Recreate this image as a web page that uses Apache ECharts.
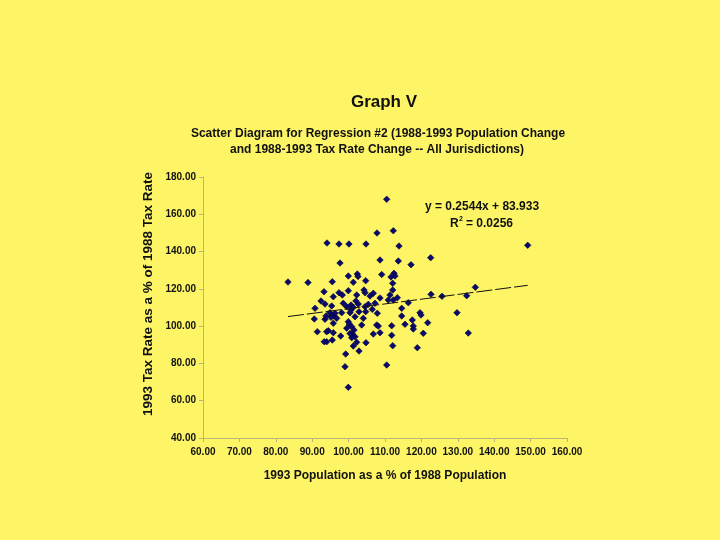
<!DOCTYPE html>
<html><head><meta charset="utf-8">
<script src="https://cdn.jsdelivr.net/npm/echarts@6/dist/echarts.min.js"></script>
<style>html,body{margin:0;padding:0;background:#FDF566;}#c{width:720px;height:540px;}</style>
</head><body><div id="c"></div>
<script>
const popPct = [83.35,88.85,94.07,97.36,100.1,104.78,110.47,107.8,112.28,113.85,97.64,108.63,113.65,117.14,122.55,149.2,134.81,132.45,125.66,122.64,129.78,132.88,121.73,119.62,119.89,117.5,117.77,117.77,120.52,118.87,110.47,99.01,99.92,102.86,99.2,116.4,114.59,114.59,112.12,111.84,111.84,112.28,111.37,112.12,112.12,112.47,112.75,111.65,109.09,108.63,113.38,110.91,95.52,99.92,102.39,102.58,101.29,104.7,93.24,95.8,97.36,98.27,99.92,102.23,104.23,104.51,106.79,105.88,92.42,93.52,90.77,95.36,98.54,99.48,100.66,101.29,102.66,104.51,105.41,107.25,94.89,95.8,96.26,98.1,100.38,100.66,102.86,101.76,104.7,107.88,90.58,93.52,95.16,95.8,99.92,100.19,100.85,101.48,101.02,101.76,100.85,103.6,104.04,107.72,108.16,91.4,93.98,95.8,97.83,106.79,108.63,93.98,95.52,101.29,102.23,104.78,94.42,93.3,99.48,100.38,93.79,96.73,106.5,102.0,115.5];
const taxPct = [123.67,123.4,144.6,144.06,144.06,144.06,168.04,149.96,151.19,142.98,133.86,135.47,134.94,132.95,136.71,143.36,120.83,116.32,116.0,117.07,107.2,96.31,101.83,107.2,105.97,103.28,100.06,98.45,96.15,88.42,79.14,78.23,67.18,86.65,85.04,112.57,109.56,105.43,89.5,95.08,100.23,114.01,116.7,119.38,122.97,128.34,126.89,126.35,127.69,115.09,115.25,114.01,123.83,126.89,127.96,126.62,123.51,124.37,118.47,115.78,117.93,116.7,119.0,116.7,119.38,117.93,117.61,116.16,113.48,111.87,109.56,110.8,112.24,110.42,111.33,110.1,111.87,110.42,111.71,112.24,107.2,105.43,106.88,107.2,107.2,108.65,107.74,105.05,107.74,106.88,103.82,103.66,104.73,101.51,102.37,101.14,99.69,97.92,95.77,94.32,93.79,100.6,104.2,100.6,100.06,97.0,97.0,96.47,94.7,95.77,96.47,91.64,92.55,89.34,91.32,91.11,97.54,91.64,98.9,96.1,105.4,104.2,109.0,113.5,101.0];
const slope = 0.2544, intercept = 83.933, r2 = 0.0256;
const xTicks = [60,70,80,90,100,110,120,130,140,150,160];
const yTicks = [40,60,80,100,120,140,160,180];

const pts = popPct.map((x,i)=>[x,taxPct[i]]);
const xmin = Math.min(...popPct), xmax = Math.max(...popPct);
const trend = [[xmin, slope*xmin+intercept],[xmax, slope*xmax+intercept]];

const F = '"Liberation Sans", Arial, sans-serif';
const axisCol = '#b9b47c';
const chart = echarts.init(document.getElementById('c'));
chart.setOption({
  backgroundColor: '#FDF566',
  animation: false,
  graphic: [
    {type: 'text', x: 384, y: 102, style: {text: 'Graph V', font: 'bold 17px ' + F, fill: '#111', align: 'center', verticalAlign: 'middle'}},
    {type: 'text', x: 378, y: 134, style: {text: 'Scatter Diagram for Regression #2 (1988-1993 Population Change', font: 'bold 12px ' + F, fill: '#111', align: 'center', verticalAlign: 'middle'}},
    {type: 'text', x: 377, y: 150, style: {text: 'and 1988-1993 Tax Rate Change -- All Jurisdictions)', font: 'bold 12px ' + F, fill: '#111', align: 'center', verticalAlign: 'middle'}},
    {type: 'text', x: 148, y: 294, rotation: Math.PI/2, style: {text: '1993 Tax Rate as a % of 1988 Tax Rate', font: 'bold 13.5px ' + F, fill: '#111', align: 'center', verticalAlign: 'middle'}},
    {type: 'text', x: 425, y: 207, style: {text: 'y = 0.2544x + 83.933', font: 'bold 12px ' + F, fill: '#111', verticalAlign: 'middle'}},
    {type: 'text', x: 450, y: 224, style: {text: 'R', font: 'bold 12px ' + F, fill: '#111', verticalAlign: 'middle'}},
    {type: 'text', x: 459, y: 219, style: {text: '2', font: 'bold 7px ' + F, fill: '#111', verticalAlign: 'middle'}},
    {type: 'text', x: 466, y: 224, style: {text: '= ' + r2.toFixed(4), font: 'bold 12px ' + F, fill: '#111', verticalAlign: 'middle'}}
  ],
  grid: {left: 203, right: 153, top: 177, bottom: 102},
  xAxis: {
    type: 'value', min: xTicks[0], max: xTicks[xTicks.length-1], interval: 10,
    name: '1993 Population as a % of 1988 Population', nameLocation: 'middle', nameGap: 32,
    nameTextStyle: {fontFamily: F, fontWeight: 'bold', fontSize: 12, color: '#111'},
    axisLine: {show: true, lineStyle: {color: axisCol}},
    axisTick: {show: true, length: 4, lineStyle: {color: axisCol}},
    splitLine: {show: false},
    axisLabel: {fontFamily: F, fontWeight: 'bold', fontSize: 10, color: '#111', margin: 9,
      formatter: v => v.toFixed(2)}
  },
  yAxis: {
    type: 'value', min: yTicks[0], max: yTicks[yTicks.length-1], interval: 20,
    axisLine: {show: true, lineStyle: {color: axisCol}},
    axisTick: {show: true, length: 4, lineStyle: {color: axisCol}},
    splitLine: {show: false},
    axisLabel: {fontFamily: F, fontWeight: 'bold', fontSize: 10, color: '#111', margin: 7,
      formatter: v => v.toFixed(2)}
  },
  series: [
    {type: 'scatter', data: pts, symbol: 'diamond', symbolSize: 6.5,
     itemStyle: {color: '#0a0a6e', borderColor: '#000033', borderWidth: 0.6, opacity: 1}},
    {type: 'line', data: trend, symbol: 'none', silent: true,
     lineStyle: {color: '#111', width: 1, type: [16, 3]}}
  ]
});
</script></body></html>
